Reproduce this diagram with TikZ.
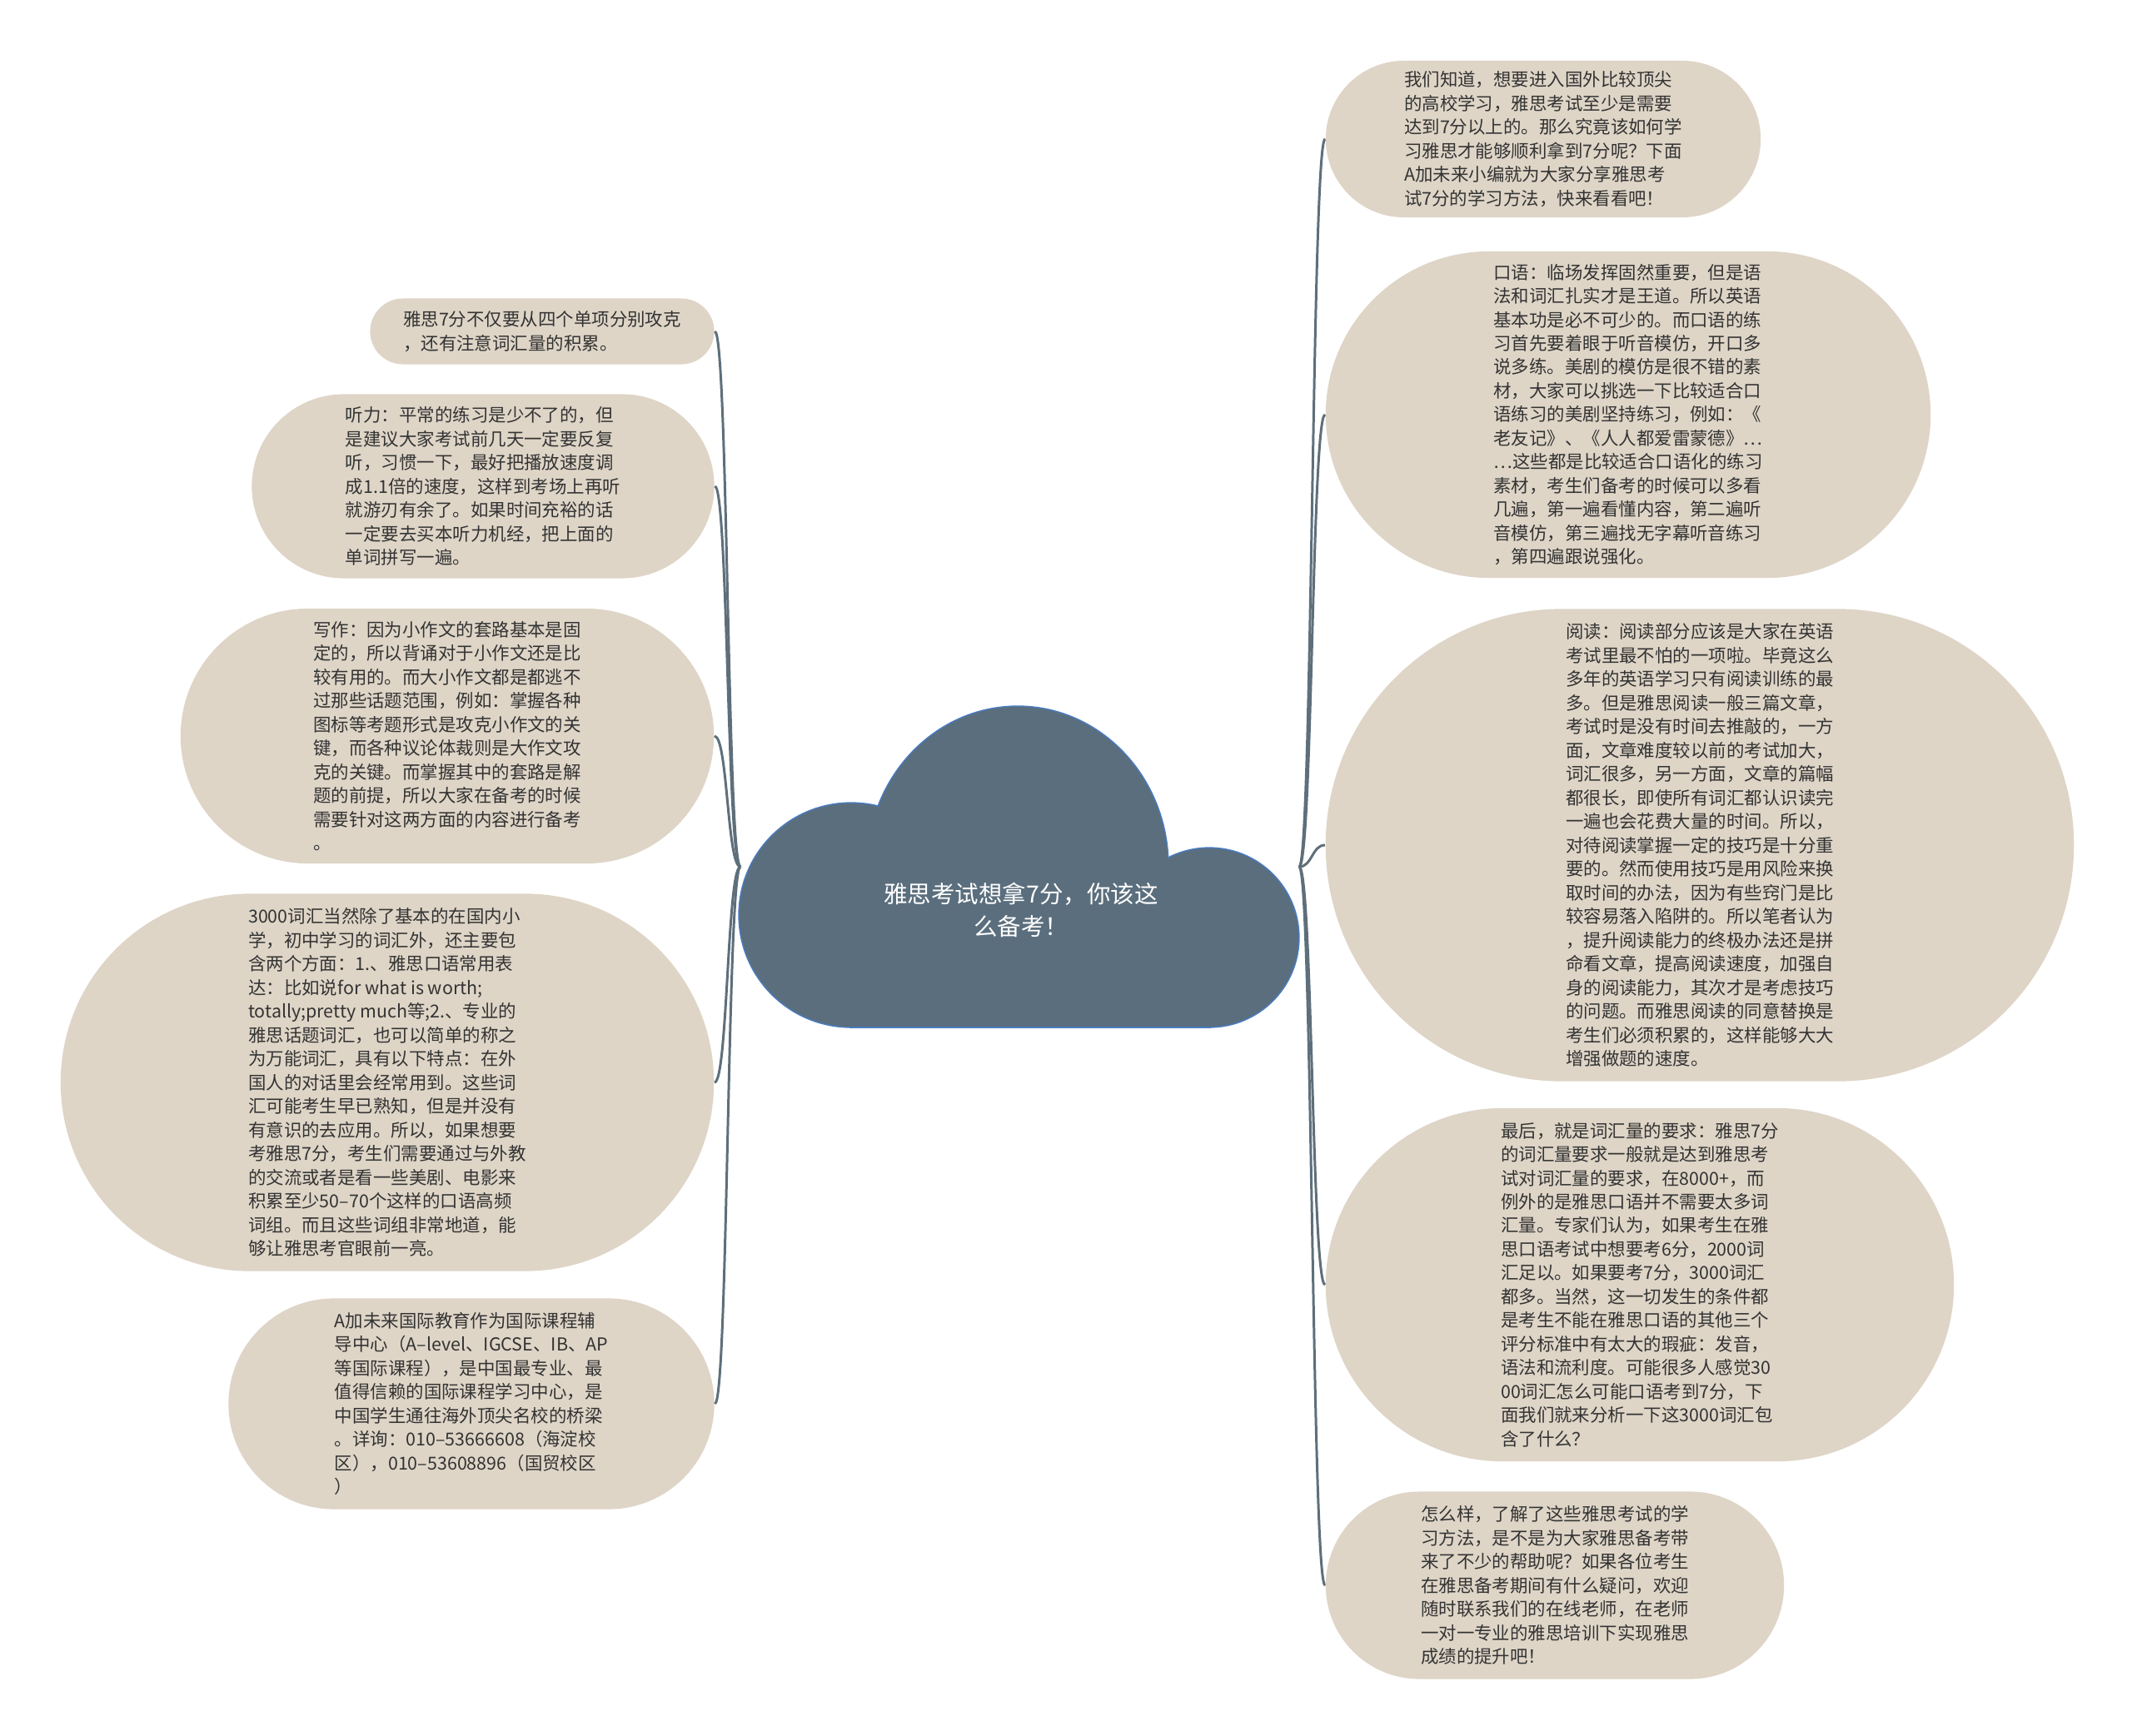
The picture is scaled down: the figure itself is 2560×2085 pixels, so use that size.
\documentclass[tikz,border=0pt]{standalone}
\usepackage{fontspec}
\newfontfamily\cjk{Noto Sans CJK SC}
\definecolor{bubble}{HTML}{DED5C7}
\definecolor{cloudfill}{HTML}{5B6E7D}
\definecolor{cloudline}{HTML}{4A7CC0}
\definecolor{linkc}{HTML}{5E6F7B}
\definecolor{txt}{HTML}{333333}

\begin{document}
\begin{tikzpicture}[x=0.01cm, y=-0.01cm,
  every node/.style={font=\cjk\fontsize{6.1}{8.1}\selectfont, text=txt},
  topic/.style 2 args={fill=bubble, minimum width=#1cm, minimum height=#2cm, rounded corners=#2*0.5cm, inner sep=0pt, align=left},
  cloudedge/.style={draw=cloudline, line width=0.9pt},
  link/.style={draw=linkc, line width=0.85pt}]
  \fill[white] (0,0) rectangle (2560,2085);
  \useasboundingbox (0,0) rectangle (2560,2085);

  \draw[cloudedge] (1022,1099) circle[radius=1.34cm];
  \draw[cloudedge] (1452,1126) circle[radius=1.07cm];
  \draw[cloudedge] (1222,1040) ellipse[x radius=1.8cm, y radius=1.91cm];
  \draw[cloudedge] (1022,1100) rectangle (1452,1233);
  \fill[cloudfill] (1022,1099) circle[radius=1.34cm];
  \fill[cloudfill] (1452,1126) circle[radius=1.07cm];
  \fill[cloudfill] (1222,1040) ellipse[x radius=1.8cm, y radius=1.91cm];
  \fill[cloudfill] (1022,1100) rectangle (1452,1233);
  \node[minimum width=6.69cm, minimum height=3.84cm, inner sep=0pt] (root) at (1224.5,1041) {};
  \node[align=center, text=white, font=\cjk\fontsize{8.1}{11}\selectfont] (title) at (1226,1093) {雅思考试想拿7分，你该这\\么备考！};

  \node[topic={5.22}{1.88}] (intro) at (1853,167) {我们知道，想要进入国外比较顶尖\\的高校学习，雅思考试至少是需要\\达到7分以上的。那么究竟该如何学\\习雅思才能够顺利拿到7分呢？下面\\A加未来小编就为大家分享雅思考\\试7分的学习方法，快来看看吧！};
  \node[topic={7.26}{3.92}] (speak) at (1955,498) {口语：临场发挥固然重要，但是语\\法和词汇扎实才是王道。所以英语\\基本功是必不可少的。而口语的练\\习首先要着眼于听音模仿，开口多\\说多练。美剧的模仿是很不错的素\\材，大家可以挑选一下比较适合口\\语练习的美剧坚持练习，例如：《\\老友记》、《人人都爱雷蒙德》…\\…这些都是比较适合口语化的练习\\素材，考生们备考的时候可以多看\\几遍，第一遍看懂内容，第二遍听\\音模仿，第三遍找无字幕听音练习\\，第四遍跟说强化。};
  \node[topic={8.98}{5.67}] (read) at (2041,1015) {阅读：阅读部分应该是大家在英语\\考试里最不怕的一项啦。毕竟这么\\多年的英语学习只有阅读训练的最\\多。但是雅思阅读一般三篇文章，\\考试时是没有时间去推敲的，一方\\面，文章难度较以前的考试加大，\\词汇很多，另一方面，文章的篇幅\\都很长，即使所有词汇都认识读完\\一遍也会花费大量的时间。所以，\\对待阅读掌握一定的技巧是十分重\\要的。然而使用技巧是用风险来换\\取时间的办法，因为有些窍门是比\\较容易落入陷阱的。所以笔者认为\\，提升阅读能力的终极办法还是拼\\命看文章，提高阅读速度，加强自\\身的阅读能力，其次才是考虑技巧\\的问题。而雅思阅读的同意替换是\\考生们必须积累的，这样能够大大\\增强做题的速度。};
  \node[topic={7.54}{4.24}] (vocab) at (1969,1543) {最后，就是词汇量的要求：雅思7分\\的词汇量要求一般就是达到雅思考\\试对词汇量的要求，在8000+，而\\例外的是雅思口语并不需要太多词\\汇量。专家们认为，如果考生在雅\\思口语考试中想要考6分，2000词\\汇足以。如果要考7分，3000词汇\\都多。当然，这一切发生的条件都\\是考生不能在雅思口语的其他三个\\评分标准中有太大的瑕疵：发音，\\语法和流利度。可能很多人感觉30\\00词汇怎么可能口语考到7分，下\\面我们就来分析一下这3000词汇包\\含了什么？};
  \node[topic={5.50}{2.25}] (outro) at (1867,1904) {怎么样，了解了这些雅思考试的学\\习方法，是不是为大家雅思备考带\\来了不少的帮助呢？如果各位考生\\在雅思备考期间有什么疑问，欢迎\\随时联系我们的在线老师，在老师\\一对一专业的雅思培训下实现雅思\\成绩的提升吧！};

  \node[topic={4.13}{0.79}] (tip) at (651,398) {雅思7分不仅要从四个单项分别攻克\\，还有注意词汇量的积累。};
  \node[topic={5.55}{2.21}] (listen) at (580,584) {听力：平常的练习是少不了的，但\\是建议大家考试前几天一定要反复\\听，习惯一下，最好把播放速度调\\成1.1倍的速度，这样到考场上再听\\就游刃有余了。如果时间充裕的话\\一定要去买本听力机经，把上面的\\单词拼写一遍。};
  \node[topic={6.40}{3.06}] (write) at (537,884) {写作：因为小作文的套路基本是固\\定的，所以背诵对于小作文还是比\\较有用的。而大小作文都是都逃不\\过那些话题范围，例如：掌握各种\\图标等考题形式是攻克小作文的关\\键，而各种议论体裁则是大作文攻\\克的关键。而掌握其中的套路是解\\题的前提，所以大家在备考的时候\\需要针对这两方面的内容进行备考\\。};
  \node[topic={7.84}{4.53}] (words) at (465,1300) {3000词汇当然除了基本的在国内小\\学，初中学习的词汇外，还主要包\\含两个方面：1.、雅思口语常用表\\达：比如说for what is worth;\\totally;pretty much等;2.、专业的\\雅思话题词汇，也可以简单的称之\\为万能词汇，具有以下特点：在外\\国人的对话里会经常用到。这些词\\汇可能考生早已熟知，但是并没有\\有意识的去应用。所以，如果想要\\考雅思7分，考生们需要通过与外教\\的交流或者是看一些美剧、电影来\\积累至少50–70个这样的口语高频\\词组。而且这些词组非常地道，能\\够让雅思考官眼前一亮。};
  \node[topic={5.83}{2.53}] (about) at (566,1686) {A加未来国际教育作为国际课程辅\\导中心（A–level、IGCSE、IB、AP\\等国际课程），是中国最专业、最\\值得信赖的国际课程学习中心，是\\中国学生通往海外顶尖名校的桥梁\\。详询：010–53666608（海淀校\\区），010–53608896（国贸校区\\）};

  \foreach \n in {intro,speak,read,vocab,outro}
    \draw[link] (root.east) .. controls +(16,0) and +(-16,0) .. (\n.west);
  \foreach \n in {tip,listen,write,words,about}
    \draw[link] (root.west) .. controls +(-16,0) and +(16,0) .. (\n.east);
\end{tikzpicture}
\end{document}
